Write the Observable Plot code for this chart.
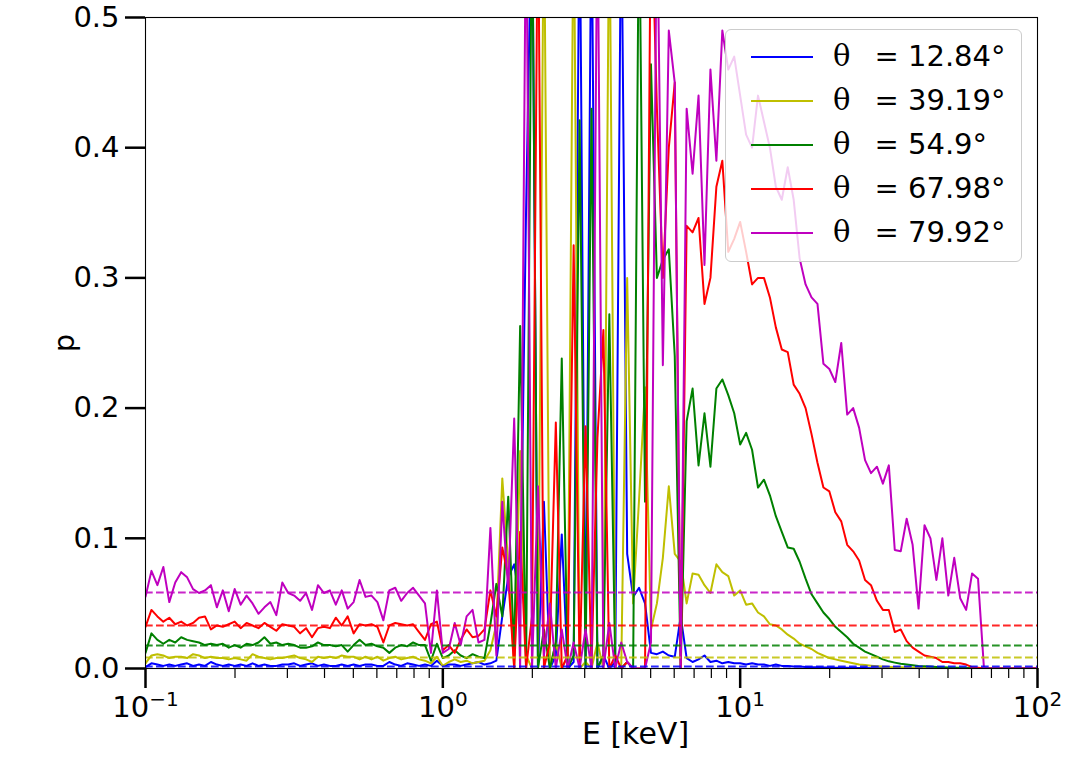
<!DOCTYPE html>
<html><head><meta charset="utf-8">
<script src="https://cdn.jsdelivr.net/npm/d3@7"></script>
<script src="https://cdn.jsdelivr.net/npm/@observablehq/plot@0.6"></script>
<style>
body{margin:0;background:#fff;}
#wrap{position:relative;width:1068px;height:777px;font-family:"DejaVu Sans",sans-serif;}
#legend{position:absolute;left:725px;top:29px;width:297px;height:233px;background:rgba(255,255,255,0.8);border:1px solid #cccccc;border-radius:6px;box-sizing:border-box;}
.row{position:absolute;left:0;width:100%;height:44px;}
.swatch{position:absolute;left:25px;top:21px;width:62px;height:0;border-top:2px solid;}
.lab{position:absolute;left:107px;top:1px;font-size:29px;line-height:40px;white-space:nowrap;color:#000;}
.th{font-family:"DejaVu Serif",serif;margin-right:24px;}
</style></head>
<body><div id="wrap"><div id="chart"></div><div id="legend"></div></div>
<script>
// sampling bins: 50 per decade from 0.1 to 100 keV
const energyBins = d3.range(151).map(i => 10 ** (-1 + i / 50));
const thetaLabels = ["12.84°", "39.19°", "54.9°", "67.98°", "79.92°"];
const seriesColors = ["#0000ff", "#bfbf00", "#008000", "#ff0000", "#bf00bf"];

const pBlue = [0.001,0.004,0.003,0.002,0.003,0.002,0.003,0.004,0.002,0.003,
0.002,0.005,0.003,0.002,0.003,0.002,0.003,0.002,0.004,0.002,
0.003,0.002,0.002,0.003,0.003,0.004,0.002,0.003,0.004,0.002,
0.003,0.002,0.002,0.003,0.002,0.003,0.002,0.003,0.003,0.002,
0.002,0.005,0.003,0.002,0.004,0.003,0.002,0.003,0.002,0.006,
0.002,0.003,0.003,
0.002,0.003,0.004,0.005,0.003,0.004,0.006,0.040,0.070,0.080,0.050,0.353,0.600,0.000,0.128,0.000,0.010,0.103,0.000,0.005,0.600,0.000,0.600,0.000,0.010,0.000,0.005,0.600,0.088,0.055,0.062,0.050,0.012,
0.011,0.013,0.010,0.009,0.040,0.008,0.005,0.007,0.010,0.005,0.006,0.004,0.005,0.004,0.004,
0.003,0.004,0.003,0.003,0.002,0.003,0.002,0.002,0.0015,0.0015,0.0012,0.001,0.001,0.0008,0.0008,0.0006,0.0005,0.0005,0.0004,0.0003,
0.0003,0.0002,0.0002,0.0001,0.0001,0,0,0,0,0,0,0,0,0,0,0,0,0,0,0,0,0,0,0,0,0,0,0,0,0];

const pYellow = [0.004,0.010,0.011,0.010,0.008,0.009,0.009,0.008,0.011,0.010,0.008,0.009,0.008,0.008,0.007,0.008,0.007,0.006,0.011,0.009,0.008,0.007,0.008,0.008,0.009,0.010,
0.008,0.007,0.005,0.009,0.008,0.009,0.008,0.010,0.009,0.009,0.007,0.009,0.007,0.009,0.006,0.008,0.009,0.007,0.008,0.009,0.007,0.006,0.004,0.009,0.002,0.005,0.007,
0.005,0.006,0.004,0.005,0.006,0.014,0.034,0.146,0.080,0.000,0.167,0.010,0.000,0.000,0.600,0.000,0.020,0.000,0.010,0.600,0.000,0.005,0.000,0.020,0.000,0.600,0.000,0.000,0.300,0.050,0.130,0.216,0.030,
0.050,0.085,0.140,0.088,0.082,0.050,0.073,0.072,0.064,0.058,0.080,0.074,0.071,0.056,0.060,
0.049,0.050,0.043,0.040,0.034,0.033,0.030,0.026,0.023,0.019,0.017,0.015,0.012,0.010,0.008,0.007,0.006,0.005,0.004,0.003,
0.0027,0.0022,0.0018,0.0015,0.0012,0.001,0.0009,0.0008,0.0006,0.0005,0.0004,0.0004,0.0003,0.0002,0.0002,0.0001,0.0001,0,0,0,
0,0,0,0,0,0,0,0,0,0];

const pGreen = [0.012,0.027,0.022,0.019,0.022,0.020,0.024,0.022,0.021,0.020,0.018,0.019,0.018,0.019,0.016,0.018,0.016,0.019,0.018,0.020,0.024,0.019,0.020,0.018,0.019,0.018,
0.016,0.016,0.017,0.020,0.018,0.018,0.017,0.018,0.013,0.018,0.022,0.018,0.019,0.017,0.016,0.012,0.016,0.018,0.017,0.020,0.018,0.018,0.006,0.019,0.008,0.010,0.014,
0.010,0.008,0.011,0.009,0.008,0.034,0.065,0.040,0.132,0.010,0.263,0.000,0.600,0.000,0.030,0.000,0.020,0.238,0.000,0.010,0.421,0.000,0.430,0.000,0.010,0.272,0.000,0.000,0.005,0.000,0.600,0.128,0.464,
0.300,0.314,0.322,0.240,0.000,0.190,0.215,0.156,0.196,0.155,0.215,0.222,0.210,0.196,0.172,
0.181,0.168,0.139,0.145,0.133,0.117,0.105,0.093,0.092,0.082,0.069,0.057,0.050,0.043,0.038,0.032,0.028,0.024,0.019,0.016,
0.013,0.011,0.009,0.007,0.0055,0.0045,0.0036,0.003,0.0025,0.002,0.0018,0.0015,0.0012,0.001,0.0008,0.0006,0.0005,0.0003,0.0002,0.0001,
0,0,0,0,0,0,0,0,0,0];

const pRed = [0.032,0.045,0.040,0.036,0.039,0.034,0.036,0.033,0.035,0.039,0.040,0.030,0.033,0.032,0.034,0.036,0.031,0.035,0.033,0.031,0.035,0.032,0.029,0.034,0.033,0.032,
0.027,0.031,0.024,0.031,0.032,0.031,0.039,0.033,0.040,0.027,0.034,0.033,0.034,0.032,0.020,0.033,0.035,0.034,0.033,0.034,0.028,0.022,0.034,0.036,0.014,0.018,0.012,
0.022,0.030,0.024,0.025,0.030,0.060,0.040,0.093,0.070,0.000,0.105,0.000,0.040,0.600,0.000,0.020,0.189,0.000,0.010,0.325,0.000,0.186,0.000,0.177,0.260,0.000,0.010,0.000,0.005,0.000,0.000,0.000,0.600,
0.430,0.300,0.400,0.450,0.000,0.340,0.335,0.346,0.280,0.300,0.370,0.390,0.320,0.330,0.343,
0.320,0.295,0.300,0.300,0.285,0.262,0.245,0.243,0.218,0.211,0.200,0.180,0.158,0.139,0.136,0.120,0.113,0.095,0.090,0.083,
0.068,0.064,0.052,0.045,0.045,0.028,0.030,0.021,0.016,0.013,0.010,0.009,0.008,0.005,0.005,0.004,0.004,0.003,0.001,0.0005,
0,0,0,0,0,0,0,0,0,0];

const pMagenta = [0.055,0.075,0.064,0.078,0.051,0.066,0.074,0.070,0.061,0.058,0.060,0.064,0.047,0.060,0.044,0.061,0.049,0.056,0.050,0.042,0.047,0.051,0.041,0.066,0.058,0.056,
0.052,0.058,0.045,0.064,0.058,0.060,0.049,0.060,0.046,0.051,0.068,0.055,0.056,0.051,0.037,0.060,0.062,0.052,0.058,0.062,0.056,0.050,0.012,0.060,0.012,
0.015,0.035,0.018,0.040,0.045,0.020,
0.022,0.108,0.010,0.128,0.060,0.192,0.000,0.600,0.000,0.140,0.010,0.050,0.000,0.030,0.000,0.020,0.000,0.030,0.000,0.600,0.000,0.035,0.000,0.020,0.005,0.000,0.000,0.000,0.020,
0.600,0.233,0.490,0.450,0.000,0.430,0.380,0.440,0.310,0.460,0.390,0.490,0.460,0.470,0.440,
0.410,0.400,0.440,0.420,0.400,0.370,0.360,0.385,0.360,0.315,0.295,0.285,0.280,0.234,0.230,0.220,0.250,0.195,0.200,0.185,
0.160,0.150,0.155,0.142,0.156,0.091,0.090,0.115,0.095,0.046,0.110,0.100,0.068,0.100,0.056,0.085,0.054,0.045,0.073,0.069,
0,0,0,0,0,0,0,0,0,0];

const meanP = [0.0015, 0.0084, 0.0177, 0.033, 0.0584];

const xMajorTicks = [0.1, 1, 10, 100];
const xTickLabels = ["10⁻¹", "10⁰", "10¹", "10²"];
const xMinorTicks = [0.2,0.3,0.4,0.5,0.6,0.7,0.8,0.9,2,3,4,5,6,7,8,9,20,30,40,50,60,70,80,90];
const yTicks = [0, 0.1, 0.2, 0.3, 0.4, 0.5];
const yTickLabels = ["0.0", "0.1", "0.2", "0.3", "0.4", "0.5"];
const xLabel = "E [keV]";
const yLabel = "p";

const series = [pBlue, pYellow, pGreen, pRed, pMagenta];
const tables = series.map(arr => arr.map((p, i) => ({E: energyBins[i], p})));

const marks = [];
tables.forEach((t, k) => {
  marks.push(Plot.line(t, {x: "E", y: "p", stroke: seriesColors[k], strokeWidth: 2, clip: true}));
});
meanP.forEach((m, k) => {
  marks.push(Plot.ruleY([m], {stroke: seriesColors[k], strokeWidth: 2, strokeDasharray: "7.7,3.3", strokeOpacity: 0.85}));
});
marks.push(Plot.axisX(xMinorTicks, {tickSize: 10, strokeWidth: 1.2, tickFormat: () => "", label: null}));
marks.push(Plot.axisX(xMajorTicks, {tickSize: 20, strokeWidth: 2.5, tickPadding: 8, fontSize: 29,
  tickFormat: d => xTickLabels[xMajorTicks.indexOf(d)], label: null}));
marks.push(Plot.axisY(yTicks, {tickSize: 20, strokeWidth: 2.5, tickPadding: 6, fontSize: 29,
  tickFormat: d => yTickLabels[yTicks.indexOf(d)],
  label: yLabel, labelAnchor: "center", labelArrow: "none", labelOffset: 92}));
marks.push(Plot.text([xLabel], {frameAnchor: "bottom", dx: 44, dy: 75, text: d => d, fontSize: 30, fill: "#000"}));
marks.push(Plot.frame({stroke: "#000", strokeWidth: 1.1}));

const chart = Plot.plot({
  width: 1068, height: 777,
  marginLeft: 145, marginRight: 31, marginTop: 17, marginBottom: 109,
  style: {fontFamily: "DejaVu Sans", fontSize: "29px", color: "#000", background: "#fff"},
  x: {type: "log", domain: [0.1, 100]},
  y: {domain: [0, 0.5]},
  marks
});
document.getElementById("chart").appendChild(chart);

// render x tick labels as base + raised exponent
const supMap = {"⁻": "−", "⁰": "0", "¹": "1", "²": "2"};
d3.select(chart).selectAll("text").each(function() {
  const s = this.textContent;
  if (xTickLabels.includes(s)) {
    const exp = [...s.slice(2)].map(c => supMap[c] || c).join("");
    const el = d3.select(this);
    el.text("10");
    el.append("tspan").attr("dy", "-11").attr("font-size", 20).text(exp);
  }
});

const legend = document.getElementById("legend");
thetaLabels.forEach((lab, k) => {
  const row = document.createElement("div");
  row.className = "row";
  row.style.top = (5 + k * 44) + "px";
  const sw = document.createElement("div");
  sw.className = "swatch";
  sw.style.borderTopColor = seriesColors[k];
  const tx = document.createElement("div");
  tx.className = "lab";
  const th = document.createElement("span");
  th.className = "th";
  th.textContent = "θ";
  tx.appendChild(th);
  tx.appendChild(document.createTextNode("= " + lab));
  row.appendChild(sw);
  row.appendChild(tx);
  legend.appendChild(row);
});
</script></body></html>
